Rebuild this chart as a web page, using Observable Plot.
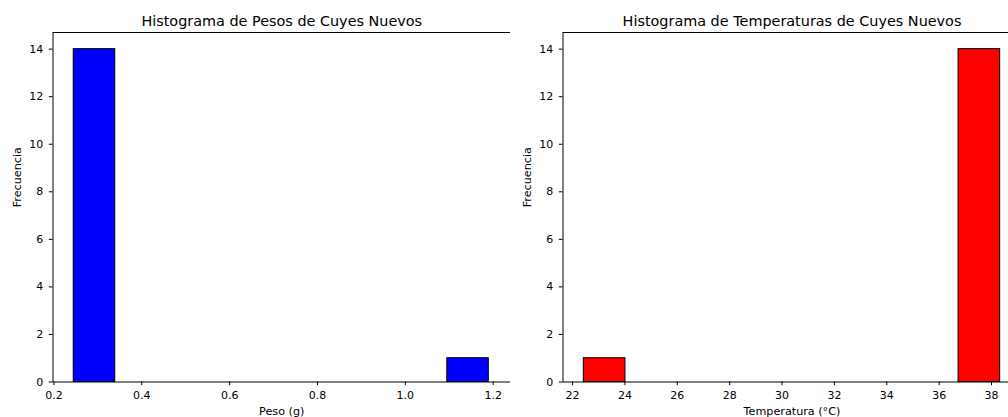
<!DOCTYPE html>
<html>
<head>
<meta charset="utf-8">
<script src="https://cdn.jsdelivr.net/npm/d3@7"></script>
<script src="https://cdn.jsdelivr.net/npm/@observablehq/plot@0.6"></script>
<style>
  html, body { margin: 0; padding: 0; background: #fff; width: 1008px; height: 417px; overflow: hidden; }
  #wrap { position: relative; width: 1008px; height: 417px; overflow: hidden; }
  .panel { position: absolute; top: 0; width: 520px; height: 417px; }
  .panel svg { max-width: none !important; display: block; }
</style>
</head>
<body>
<div id="wrap">
  <div id="left" class="panel" style="left:0px"></div>
  <div id="right" class="panel" style="left:510px"></div>
</div>
<script>
// Histogram of weights (bin edges and counts)
const pesosEdges = [0.245, 0.3395, 0.434, 0.5285, 0.623, 0.7175, 0.812, 0.9065, 1.001, 1.0955, 1.19];
const pesosCounts = [14, 0, 0, 0, 0, 0, 0, 0, 0, 1];
const pesosTicks = [0.2, 0.4, 0.6, 0.8, 1.0, 1.2];

// Histogram of temperatures
const tempEdges = [22.43, 24.02, 25.61, 27.20, 28.79, 30.38, 31.97, 33.56, 35.15, 36.74, 38.33];
const tempCounts = [1, 0, 0, 0, 0, 0, 0, 0, 0, 14];
const tempTicks = [22, 24, 26, 28, 30, 32, 34, 36, 38];

const freqTicks = [0, 2, 4, 6, 8, 10, 12, 14];

const titles = ["Histograma de Pesos de Cuyes Nuevos", "Histograma de Temperaturas de Cuyes Nuevos"];
const xLabels = ["Peso (g)", "Temperatura (°C)"];
const yLabel = "Frecuencia";

function toBins(edges, counts) {
  return counts.map((c, i) => ({x1: edges[i], x2: edges[i + 1], y: c}));
}

function histPanel({bins, fill, xDomain, xTicks, xFormat, title, xLabel, width, marginRight}) {
  return Plot.plot({
    width,
    height: 417,
    marginLeft: 52.5,
    marginRight,
    marginTop: 32,
    marginBottom: 35.5,
    style: {fontFamily: "DejaVu Sans", fontSize: "11px", color: "#000", background: "#fff", overflow: "visible", maxWidth: "none"},
    x: {domain: xDomain},
    y: {domain: [0, 14.7]},
    marks: [
      Plot.rectY(bins, {x1: "x1", x2: "x2", y: "y", fill, stroke: "#000", strokeWidth: 1, inset: 0}),
      Plot.frame({stroke: "#000", strokeWidth: 1}),
      Plot.axisX({ticks: xTicks, tickFormat: xFormat, tickSize: 3.7, tickPadding: 5.8, fontSize: 11, label: null}),
      Plot.axisY({ticks: freqTicks, tickSize: 3.7, tickPadding: 6, fontSize: 11, label: null}),
      Plot.text([title], {text: d => d, frameAnchor: "top", lineAnchor: "bottom", dy: -6.3, fontSize: 14.4, fill: "#000"}),
      Plot.text([xLabel], {text: d => d, frameAnchor: "bottom", lineAnchor: "top", dy: 25.5, fontSize: 11.2, fill: "#000"}),
      Plot.text([yLabel], {text: d => d, frameAnchor: "left", rotate: -90, dx: -35.5, fontSize: 11.2, fill: "#000"})
    ]
  });
}

document.getElementById("left").append(histPanel({
  bins: toBins(pesosEdges, pesosCounts),
  fill: "#0000ff",
  xDomain: [0.1978, 1.2394],
  xTicks: pesosTicks,
  xFormat: d3.format(".1f"),
  title: titles[0],
  xLabel: xLabels[0],
  width: 520,
  marginRight: 10
}));

document.getElementById("right").append(histPanel({
  bins: toBins(tempEdges, tempCounts),
  fill: "#ff0000",
  xDomain: [21.635, 39.125],
  xTicks: tempTicks,
  xFormat: d3.format("d"),
  title: titles[1],
  xLabel: xLabels[1],
  width: 520,
  marginRight: 9.5
}));
</script>
</body>
</html>
